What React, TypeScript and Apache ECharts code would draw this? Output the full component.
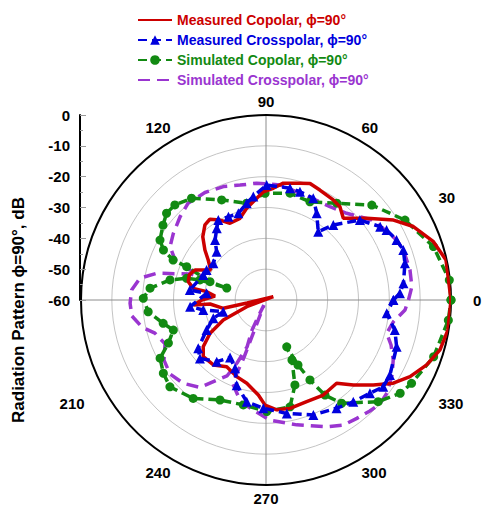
import React, { useEffect, useRef } from 'react';
import * as echarts from 'echarts';

const FONT = 'Liberation Sans, Arial, sans-serif';

// [angle (deg), level (dB)]
const measuredCopolar: number[][] = [
  [0, 0], [12.5, -0.2], [19.2, -2.5], [26.5, -6.6], [32.1, -11.2], [39.1, -17.9], [46.6, -23.5],
  [51.6, -21.4], [56.1, -20.9], [63.9, -20.3], [69.3, -19.6], [73.8, -20.6], [81.6, -21.7],
  [86.3, -23.7], [91.4, -24.9], [96.3, -27.4], [101.9, -29.6], [107.7, -32.2], [115.1, -32.5],
  [119.9, -30.1], [124.8, -28.1], [129.1, -28.6], [135, -31], [140.7, -34.4], [145.3, -37.2],
  [151.5, -39.6], [157.1, -35], [161.9, -33.8], [166.7, -34.1], [170.9, -36.1], [172, -40.6],
  [175.5, -43.4], [180, -39.2], [183.9, -36.4], [184.1, -41.8], [191, -45.9], [189, -53.8],
  [24.3, -57.4], [199.1, -53.4], [205.1, -44.7], [210.7, -38.9], [216.7, -34.6], [222.1, -32.6],
  [231, -32.9], [239.5, -34.9], [249.1, -33.4], [257, -32.3], [265.4, -29.1], [269.5, -25.9],
  [275.6, -24.2], [282.5, -24], [291.8, -24.5], [301.1, -24], [310.3, -24.6], [315.8, -20.5],
  [321.6, -15.6], [326.8, -10.7], [332, -7.1], [338, -3.8], [344, -1.3], [350.7, -0.2], [360, 0],
];

const measuredCrosspolar: number[][] = [
  [0, -18.7], [2.9, -16.5], [6.9, -15.1], [14.8, -13.4], [20, -12.6], [24.7, -13.4], [30.1, -14.8],
  [32.7, -16], [40.4, -20], [48.1, -27.3], [52.6, -32.1], [59.7, -27.4], [65.1, -23.6], [72.6, -23.2],
  [77.9, -22.9], [89.7, -22.7], [97, -26.2], [101.3, -28], [107.7, -30.5], [114.3, -30.4],
  [120.8, -29.8], [124.5, -31.8], [130.4, -34.5], [135.6, -37.6], [145.1, -39.2], [153.2, -38.4],
  [158.3, -38.1], [172.5, -35.1], [173.6, -40.6], [185, -35.3], [189, -39.4], [195.3, -45.6],
  [199.2, -41.9], [206.8, -38.4], [215.5, -33], [221.5, -31.4], [231.4, -34.4], [238, -38],
  [245.6, -35.7], [251, -30.8], [259.3, -26.4], [268.6, -24.9], [280.4, -22.6], [292.4, -19.7],
  [303.1, -18.1], [310.6, -16.5], [318.1, -14.7], [323.5, -12.7], [328.8, -13], [340.3, -15],
  [346.9, -17.1], [353.7, -20.6], [360, -18.7],
];

const simulatedCopolar: number[][] = [
  [0, 0], [6.2, -0.2], [17.7, -3], [29.9, -8], [41.9, -13.9], [53.8, -21.1], [65.9, -25.1],
  [77.3, -24.5], [90.5, -25.4], [101.3, -28], [113.9, -24.5], [126.2, -19.1], [133.8, -17.3],
  [138.9, -17.2], [144, -18.7], [150.5, -20.5], [154, -23], [156.7, -27.2], [157.2, -32.1],
  [161.9, -40.9], [163, -46.7], [163.1, -37.6], [164.7, -33.3], [168.2, -28.2], [174.2, -22.2],
  [179.2, -20.2], [185.7, -21.6], [192.8, -25.8], [198, -28.4], [203.8, -25.4], [208.8, -20.8],
  [215.5, -19.1], [222.1, -18], [233.5, -20.3], [245.3, -24.3], [257.8, -25.2], [270.4, -23.8],
  [282.7, -24.5], [288.8, -30.9], [293.4, -38.8], [293.9, -43.4], [296.2, -36.5], [298.8, -30.4],
  [301.8, -23.7], [306.2, -18.5], [317.8, -10.9], [325.2, -7], [330.2, -5.6], [341.3, -2.6],
  [353.7, -0.5], [360, 0],
];

const simulatedCrosspolar: number[][] = [
  [0, -13.8], [5.2, -12.5], [11.8, -12.3], [20, -12.6], [24.7, -13.4], [33.1, -15.9], [37.1, -17],
  [47.1, -21.6], [55.6, -23.3], [66.8, -23.8], [83.1, -22.4], [94.6, -22], [102.7, -21.8],
  [110.6, -20.7], [119.6, -19.9], [128.9, -19.7], [135.9, -21.2], [144.3, -23], [150.9, -24.4],
  [156.3, -27.8], [158.5, -33.5], [160.2, -39], [161.1, -34], [166.2, -23.6], [170.2, -18.5],
  [175.7, -16.3], [181.4, -15.9], [186.8, -16.2], [192.3, -18.8], [196.6, -22.4], [203.5, -24.3],
  [210.5, -21.6], [217.6, -20.7], [225.2, -21.9], [233, -24.5], [237.2, -28.5], [242.8, -32.3],
  [245.3, -37.5], [248, -43.6], [245, -49.3], [244.8, -53.9], [248, -58.2], [249, -40],
  [248, -31], [256, -26], [263.4, -24.1],
  [271.9, -21], [283.8, -18.3], [295.6, -14.4], [301.7, -12.3], [307.5, -11.6], [313.1, -10.7],
  [317.6, -10], [322.5, -10.5], [329.2, -12.4], [334.8, -14.4], [340.2, -16.9], [344.6, -19.4],
  [350.3, -18.1], [355.9, -14.8], [360, -13.8],
];

const seriesNames = [
  'Measured Copolar, \u03d5=90\u00b0',
  'Measured Crosspolar, \u03d5=90\u00b0',
  'Simulated Copolar, \u03d5=90\u00b0',
  'Simulated Crosspolar, \u03d5=90\u00b0',
];
const seriesColors = ['#cc0000', '#0000dd', '#128a12', '#9a35d0'];
const legendHasMarker = [false, true, true, false];
const hiddenAngleLabels = [150, 180, 360];
const yAxisTitle = 'Radiation Pattern \u03d5=90\u00b0, dB';

const toPolar = (arr: number[][]) => arr.map(([a, d]) => [d, a]);

export default function App() {
  const ref = useRef<HTMLDivElement>(null);
  useEffect(() => {
    const chart = echarts.init(ref.current!, null, { renderer: 'svg' });
    const center = [266, 300];
    const radius = 185;
    const labelBase = { fontFamily: FONT, fontWeight: 'bold', fontSize: 15, color: '#000' };
    chart.setOption({
      animation: false,
      backgroundColor: '#fff',
      legend: {
        orient: 'vertical',
        left: 132,
        top: 8,
        itemWidth: 34,
        itemHeight: 12,
        itemGap: 6,
        textStyle: { fontFamily: FONT, fontWeight: 'bold', fontSize: 14 },
        data: seriesNames.map((n, i) => ({
          name: n,
          textStyle: { color: seriesColors[i] },
          itemStyle: legendHasMarker[i] ? undefined : { opacity: 0, color: 'rgba(0,0,0,0)', borderWidth: 0 },
        })),
      },
      polar: [
        { center, radius },
        { center, radius },
      ],
      angleAxis: [
        {
          polarIndex: 0,
          type: 'value',
          min: 0,
          max: 360,
          interval: 30,
          startAngle: 0,
          clockwise: false,
          axisLine: { lineStyle: { color: '#000', width: 2 } },
          axisTick: { show: false },
          splitLine: { show: false },
          axisLabel: {
            margin: 6,
            ...labelBase,
            formatter: (v: number) => {
              if (hiddenAngleLabels.includes(v)) return '';
              if (v === 0) return '{zero|0}';
              if (v === 210) return '{far|210}';
              if (v === 30 || v === 330) return '{side|' + v + '}';
              return String(v);
            },
            rich: {
              zero: { ...labelBase, padding: [0, 0, 0, 16] },
              far: { ...labelBase, padding: [0, 16, 0, 0] },
              side: { ...labelBase, padding: [0, 0, 0, 7] },
            },
          },
        },
        {
          polarIndex: 1,
          type: 'value',
          min: 0,
          max: 360,
          interval: 90,
          startAngle: 0,
          clockwise: false,
          axisLine: { show: false },
          axisTick: { show: false },
          axisLabel: { show: false },
          splitLine: { show: true, lineStyle: { color: '#8c8c8c', width: 1 } },
        },
      ],
      radiusAxis: [
        {
          polarIndex: 0,
          type: 'value',
          min: -60,
          max: 0,
          interval: 10,
          axisLine: { show: false },
          axisTick: { show: false },
          axisLabel: { show: false },
          splitLine: { show: true, lineStyle: { color: '#c4c4c4', width: 1 } },
        },
        {
          polarIndex: 1,
          type: 'value',
          min: -60,
          max: 0,
          axisLine: { show: false },
          axisTick: { show: false },
          axisLabel: { show: false },
          splitLine: { show: false },
        },
      ],
      grid: { left: 80, top: 115, width: 20, height: 185 },
      xAxis: { type: 'value', show: false },
      yAxis: {
        type: 'value',
        min: -60,
        max: 0,
        interval: 10,
        position: 'left',
        axisLine: { show: true, lineStyle: { color: '#000', width: 2 } },
        axisTick: { show: true, inside: true, length: 6, lineStyle: { color: '#999' } },
        minorTick: { show: true, splitNumber: 2, length: 3, lineStyle: { color: '#999' } },
        splitLine: { show: false },
        axisLabel: { color: '#000', fontFamily: FONT, fontWeight: 700, fontSize: 15, margin: 10 },
      },
      graphic: [
        {
          type: 'text',
          x: 18,
          y: 310,
          rotation: Math.PI / 2,
          style: {
            text: yAxisTitle,
            fill: '#000',
            fontFamily: FONT,
            fontWeight: 'bold',
            fontSize: 17,
            textAlign: 'center',
            textVerticalAlign: 'middle',
          },
        },
      ],
      series: [
        {
          name: seriesNames[3],
          type: 'line',
          coordinateSystem: 'polar',
          polarIndex: 0,
          data: toPolar(simulatedCrosspolar),
          showSymbol: false,
          symbol: 'none',
          lineStyle: { color: seriesColors[3], width: 3.5, type: [12, 7] },
          itemStyle: { color: seriesColors[3] },
          z: 2,
        },
        {
          name: seriesNames[2],
          type: 'line',
          coordinateSystem: 'polar',
          polarIndex: 0,
          data: toPolar(simulatedCopolar),
          symbol: 'circle',
          symbolSize: 9,
          lineStyle: { color: seriesColors[2], width: 3.5, type: [9, 5] },
          itemStyle: { color: seriesColors[2] },
          z: 3,
        },
        {
          name: seriesNames[0],
          type: 'line',
          coordinateSystem: 'polar',
          polarIndex: 0,
          data: toPolar(measuredCopolar),
          showSymbol: false,
          symbol: 'none',
          lineStyle: { color: seriesColors[0], width: 3.5 },
          itemStyle: { color: seriesColors[0] },
          z: 4,
        },
        {
          name: seriesNames[1],
          type: 'line',
          coordinateSystem: 'polar',
          polarIndex: 0,
          data: toPolar(measuredCrosspolar),
          symbol: 'triangle',
          symbolSize: 10,
          lineStyle: { color: seriesColors[1], width: 3.5, type: [9, 5] },
          itemStyle: { color: seriesColors[1] },
          z: 5,
        },
      ],
    });
    return () => chart.dispose();
  }, []);
  return <div ref={ref} style={{ position: 'absolute', left: 0, top: 0, width: 484, height: 508 }} />;
}
